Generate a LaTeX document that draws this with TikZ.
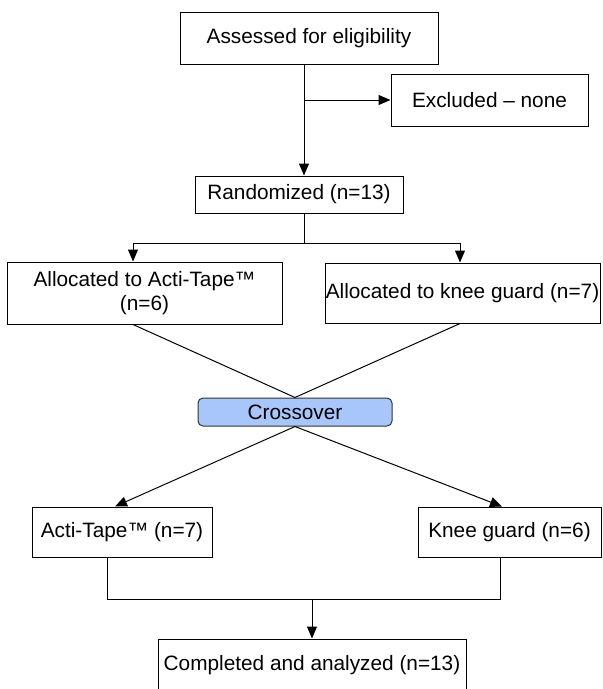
\documentclass[tikz,border=0pt]{standalone}
\usepackage{fontspec}
\setmainfont{Liberation Sans}
\usetikzlibrary{arrows.meta,calc}
\definecolor{crossblue}{RGB}{168,198,250}
\begin{document}
\begin{tikzpicture}[x=1pt,y=-1pt,
  box/.style={draw=black,line width=1pt,inner sep=0pt,align=center,font=\fontsize{20.8}{24}\selectfont},
  arr/.style={-{Triangle[length=12pt,width=10pt]},line width=1pt},
  ln/.style={line width=1pt}]
\useasboundingbox (0,0) rectangle (603,689);
\clip (0,0) rectangle (603,689);
\node[box,minimum width=258pt,minimum height=52pt] (A) at (309,38) {Assessed for eligibility};
\node[box,minimum width=197pt,minimum height=52pt] (E) at (489.5,100) {Excluded – none};
\node[box,minimum width=208pt,minimum height=37pt] (R) at (299,194.5) {Randomized (n=13)};
\node[box,minimum width=275pt,minimum height=62pt] (AA) at (144.5,293) {Allocated to Acti-Tape™\\(n=6)};
\node[box,minimum width=275pt,minimum height=60pt] (AK) at (462.5,293) {Allocated to knee guard (n=7)};
\node[box,minimum width=194pt,minimum height=28pt,rounded corners=5pt,fill=crossblue,draw=black!80] (C) at (295,412) {Crossover};
\node[box,minimum width=180pt,minimum height=50pt] (LA) at (122,532) {Acti-Tape™ (n=7)};
\node[box,minimum width=183pt,minimum height=50pt] (LK) at (509.5,532) {Knee guard (n=6)};
\node[box,minimum width=308pt,minimum height=52pt] (CA) at (312,665) {Completed and analyzed (n=13)};
\coordinate (sp) at (304,0);
\coordinate (ex) at (304,100);
\coordinate (bm) at (304,243);
\coordinate (bl) at (133,243);
\coordinate (brr) at (460,243);
\coordinate (b1) at (107,599);
\coordinate (b2) at (500,599);
\coordinate (bc) at (312,599);
\draw[arr] (A.south -| sp) -- (R.north -| sp);
\draw[arr] (ex) -- (E.west);
\draw[ln] (R.south -| sp) -- (bm);
\draw[ln] (bl) -- (brr);
\draw[arr] (bl) -- (AA.north -| bl);
\draw[arr] (brr) -- (AK.north -| brr);
\draw[ln] (AA.south -| bl) -- (C.north);
\draw[ln] (AK.south -| brr) -- (C.north);
\draw[arr] (C.south) -- ($(LA.north)+(-7,0)$);
\draw[arr] (C.south) -- ($(LK.north)+(-7.5,0)$);
\draw[ln] (LA.south -| b1) -- (b1) -- (b2) -- (LK.south -| b2);
\draw[arr] (bc) -- (CA.north);
\end{tikzpicture}
\end{document}
